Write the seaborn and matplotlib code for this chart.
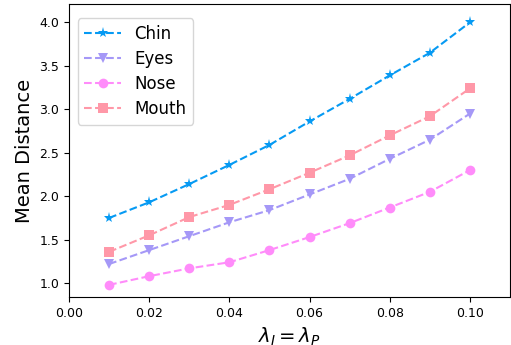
import matplotlib
matplotlib.use("Agg")
import matplotlib.pyplot as plt
import seaborn as sns
import pandas as pd

lam = [0.01, 0.02, 0.03, 0.04, 0.05, 0.06, 0.07, 0.08, 0.09, 0.10]
chin = [1.75, 1.93, 2.14, 2.36, 2.59, 2.86, 3.12, 3.39, 3.65, 4.00]
eyes = [1.22, 1.38, 1.54, 1.70, 1.84, 2.02, 2.20, 2.43, 2.65, 2.95]
nose = [0.98, 1.08, 1.17, 1.24, 1.38, 1.53, 1.69, 1.87, 2.05, 2.30]
mouth = [1.36, 1.55, 1.76, 1.90, 2.08, 2.27, 2.47, 2.70, 2.92, 3.24]

series = {"Chin": chin, "Eyes": eyes, "Nose": nose, "Mouth": mouth}
colors = {"Chin": "#069AF3", "Eyes": "#A598F7", "Nose": "#FF8CFA", "Mouth": "#FF98A8"}
markers = {"Chin": "*", "Eyes": "v", "Nose": "o", "Mouth": "s"}

rows = []
for name, vals in series.items():
    for x, y in zip(lam, vals):
        rows.append({"lam": x, "val": y, "part": name})
df = pd.DataFrame(rows)

fig = plt.figure(figsize=(5.11, 3.45), dpi=100)
ax = fig.add_axes([0.135, 0.139, 0.863, 0.849])
for name in series:
    sub = df[df.part == name]
    sns.lineplot(data=sub, x="lam", y="val", ax=ax, color=colors[name],
                 marker=markers[name], markersize=7 if name != "Chin" else 8,
                 markeredgewidth=0, linestyle="--", linewidth=1.5, label=name)

ax.set_xlim(0, 0.11)
ax.set_ylim(0.84, 4.21)
ax.set_xticks([0.0, 0.02, 0.04, 0.06, 0.08, 0.10])
ax.set_xticklabels(["0.00", "0.02", "0.04", "0.06", "0.08", "0.10"])
ax.set_yticks([1.0, 1.5, 2.0, 2.5, 3.0, 3.5, 4.0])
ax.tick_params(labelsize=9)
ax.set_xlabel(r"$\lambda_I = \lambda_P$", fontsize=14)
ax.set_ylabel("Mean Distance", fontsize=14)
ax.legend(fontsize=12, loc="upper left", bbox_to_anchor=(0.02, 0.952),
          borderaxespad=0, labelspacing=0.42, handlelength=2.2)
fig.savefig("out.png", dpi=100)
